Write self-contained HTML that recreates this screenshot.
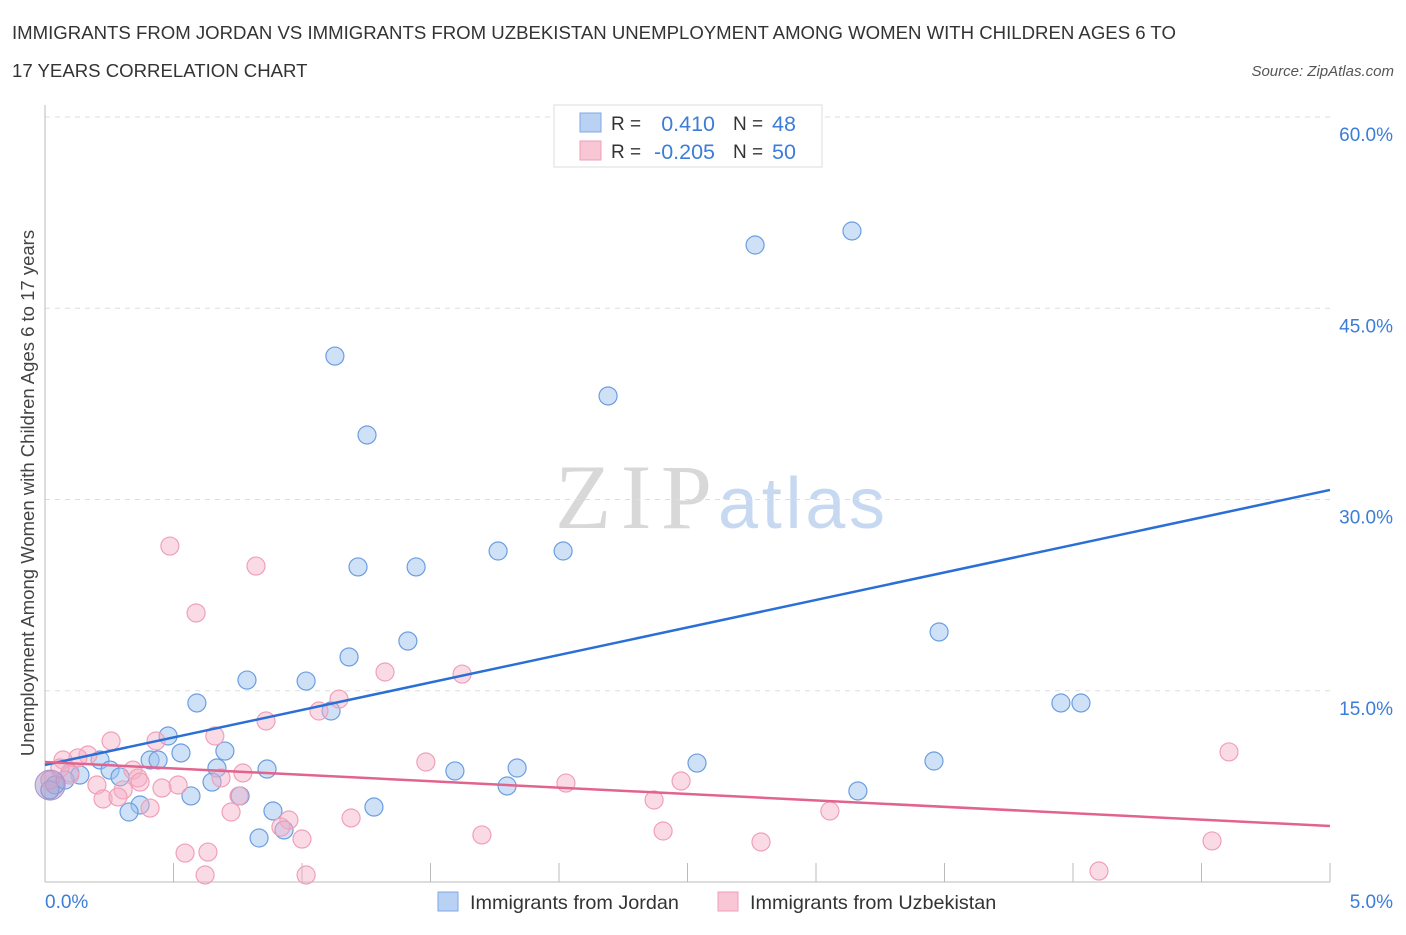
<!DOCTYPE html>
<html><head><meta charset="utf-8"><style>
body{margin:0;background:#fff;font-family:"Liberation Sans",sans-serif}
svg text{font-family:"Liberation Sans",sans-serif}
</style></head><body>
<svg id="chart" width="1406" height="930">
<text x="12" y="39" font-size="18.6" fill="#333">IMMIGRANTS FROM JORDAN VS IMMIGRANTS FROM UZBEKISTAN UNEMPLOYMENT AMONG WOMEN WITH CHILDREN AGES 6 TO</text>
<text x="12" y="77" font-size="18.6" fill="#333">17 YEARS CORRELATION CHART</text>
<text x="1394" y="76" font-size="15" fill="#555" font-style="italic" text-anchor="end">Source: ZipAtlas.com</text>
<g>
<text x="555" y="528" font-size="92" fill="#d8d8d8" textLength="157" style="font-family:'Liberation Serif',serif">ZIP</text>
<text x="718" y="528" font-size="72" fill="#c6d9f1" textLength="167">atlas</text>
</g>
<g id="grid"></g>
<line x1="45" y1="105" x2="45" y2="882" stroke="#bbb"/>
<line x1="45" y1="882" x2="1330" y2="882" stroke="#bbb"/>
<g id="ticks"></g>
<text x="34" y="493" font-size="18.5" fill="#444" text-anchor="middle" transform="rotate(-90 34 493)">Unemployment Among Women with Children Ages 6 to 17 years</text>
<text x="45" y="908" font-size="19" fill="#3b7dd8">0.0%</text>
<text x="1393" y="908" font-size="19" fill="#3b7dd8" text-anchor="end">5.0%</text>
<g id="pts"></g>
<g id="lines"></g>
<g>
<rect x="554" y="105" width="268" height="62" fill="#fff" stroke="#ddd"/>
<rect x="580" y="113" width="21" height="19" fill="#b9d2f4" stroke="#7ea8e4"/>
<rect x="580" y="141" width="21" height="19" fill="#f9c6d5" stroke="#ef9fb8"/>
<text x="611" y="130" font-size="19" fill="#333">R =</text>
<text x="715" y="131" font-size="21.5" fill="#3b7dd8" text-anchor="end">0.410</text>
<text x="733" y="130" font-size="19" fill="#333">N =</text>
<text x="772" y="131" font-size="21.5" fill="#3b7dd8">48</text>
<text x="611" y="158" font-size="19" fill="#333">R =</text>
<text x="715" y="159" font-size="21.5" fill="#3b7dd8" text-anchor="end">-0.205</text>
<text x="733" y="158" font-size="19" fill="#333">N =</text>
<text x="772" y="159" font-size="21.5" fill="#3b7dd8">50</text>
</g>
<g>
<rect x="438" y="892" width="20" height="19" fill="#b9d2f4" stroke="#7ea8e4"/>
<text x="470" y="909" font-size="19.8" fill="#333">Immigrants from Jordan</text>
<rect x="718" y="892" width="20" height="19" fill="#f9c6d5" stroke="#ef9fb8"/>
<text x="750" y="909" font-size="19.8" fill="#333">Immigrants from Uzbekistan</text>
</g>
</svg>
<script>
const yTicks=[15,30,45,60];
const yTickLabels=["15.0%","30.0%","45.0%","60.0%"];
const xTicks=[0.5,1,1.5,2,2.5,3,3.5,4,4.5,5];
const jordanX=[1.128,1.253,2.191,2.763,3.140,1.763,2.016,1.218,1.444,1.412,1.183,0.786,1.016,0.591,1.113,3.479,3.953,4.031,0.479,0.529,0.700,0.214,0.409,0.440,0.253,0.097,0.136,0.292,0.669,0.864,1.595,1.837,2.537,3.459,1.798,0.650,0.759,0.568,0.370,0.327,0.887,1.280,3.163,0.833,0.930,0.039,0.019,0.078];
const jordanY=[41.25,35.06,38.12,49.96,51.06,25.96,25.96,24.71,24.71,18.90,17.65,15.84,15.76,14.04,13.41,19.61,14.04,14.04,11.45,10.12,10.27,9.57,9.57,9.57,8.78,8.55,8.39,8.24,8.94,8.86,8.71,8.94,9.33,9.49,7.53,7.84,6.75,6.75,6.04,5.49,5.57,5.88,7.14,3.45,4.08,7.61,7.22,8.00];
const uzbX=[0.486,0.821,0.588,1.323,1.623,1.144,1.066,0.860,0.661,0.257,0.432,0.167,0.128,0.070,0.342,0.362,0.770,0.685,1.482,0.518,0.455,0.202,0.304,0.226,0.284,0.409,0.724,0.755,2.027,2.475,2.370,3.054,4.607,1.191,0.949,0.918,1.000,1.700,2.405,2.786,4.541,0.545,0.634,0.623,1.016,4.101,0.019,0.097,0.058,0.370];
const uzbY=[26.35,24.78,21.10,16.47,16.31,14.35,13.41,12.63,11.45,11.06,11.06,9.96,9.73,9.57,8.78,8.16,8.55,8.16,9.41,7.61,7.37,7.61,7.22,6.51,6.67,5.80,5.49,6.75,7.76,7.92,6.43,5.57,10.20,5.02,4.86,4.31,3.37,3.69,4.00,3.14,3.22,2.27,2.35,0.55,0.55,0.86,8.00,8.39,8.94,7.84];
const jordanTrend=[9.18,30.75];
const uzbTrend=[9.41,4.39];
const NS="http://www.w3.org/2000/svg";
const sx=v=>45+v*257, sy=v=>882-v*12.75;
function mk(tag,attrs,parent){const e=document.createElementNS(NS,tag);for(const k in attrs)e.setAttribute(k,attrs[k]);document.getElementById(parent).appendChild(e);return e;}
yTicks.forEach((t,i)=>{
 const g=mk('line',{x1:45,x2:1330,y1:sy(t),y2:sy(t),stroke:'#ddd','stroke-dasharray':'5,5'},'grid');
 
 
 const l=mk('text',{x:1393,y:sy(t)+24,'font-size':19,fill:'#3b7dd8','text-anchor':'end'},'grid');
 l.textContent=yTickLabels[i];
 
 
});
xTicks.forEach(t=>{
 const k=mk('line',{x1:sx(t),x2:sx(t),y1:863,y2:882,stroke:'#bbb'},'ticks');
 
 
});
function pts(X,Y,fill,stroke,name){X.forEach((x,i)=>{
 const c=mk('circle',{cx:sx(x),cy:sy(Y[i]),r:9,fill:fill,stroke:stroke,'stroke-width':1.2},'pts');
 
 
});}
pts(jordanX,jordanY,'rgba(160,195,240,0.5)','#6b9ee0','jordan-point');
pts(uzbX,uzbY,'rgba(245,175,198,0.45)','#f0a0b8','uzbekistan-point');
const big=mk('circle',{cx:sx(0.02),cy:sy(7.6),r:15,fill:'rgba(170,150,200,0.5)',stroke:'#a98fd0'},'pts');


const lj=mk('line',{x1:sx(0),y1:sy(jordanTrend[0]),x2:sx(5),y2:sy(jordanTrend[1]),stroke:'#2a6fd6','stroke-width':2.5},'lines');


const lu=mk('line',{x1:sx(0),y1:sy(uzbTrend[0]),x2:sx(5),y2:sy(uzbTrend[1]),stroke:'#e2638e','stroke-width':2.5},'lines');


</script>
</body></html>
